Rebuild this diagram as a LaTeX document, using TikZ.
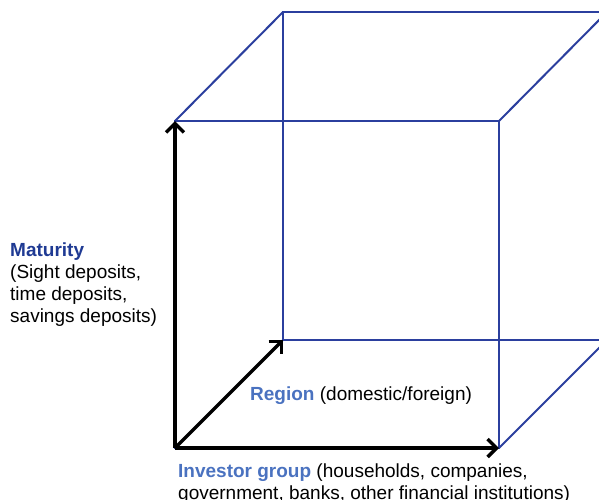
\documentclass[tikz,border=0pt]{standalone}
\usepackage{fontspec}
\setmainfont{Liberation Sans}
\usetikzlibrary{arrows.meta}
\definecolor{cubeblue}{HTML}{2B3F9E}
\definecolor{darkblue}{HTML}{1F3A93}
\definecolor{lightblue}{HTML}{4A72C0}
\begin{document}
\begin{tikzpicture}[x=1pt,y=-1pt,
  cube/.style={draw=cubeblue,line width=2pt},
  axis/.style={draw=black,line width=3.4pt,-{Straight Barb[length=9pt,width=18pt,line width=3.4pt]}},
  lbl/.style={anchor=base west,inner sep=0pt,align=left,font=\fontsize{19}{22}\selectfont}]
\useasboundingbox (0,0) rectangle (599,499);
\clip (0,0) rectangle (599,499);
\coordinate (F1) at (175,121);
\coordinate (F2) at (499,121);
\coordinate (F3) at (499,448);
\coordinate (F4) at (175,448);
\coordinate (B1) at (283,12);
\coordinate (B2) at (607,12);
\coordinate (B3) at (607,340);
\coordinate (B4) at (283,340);
\draw[cube] (F1) -- (F2) -- (F3) -- (F4) -- cycle;
\draw[cube] (B1) -- (B2) -- (B3) -- (B4) -- cycle;
\draw[cube] (F1) -- (B1);
\draw[cube] (F2) -- (B2);
\draw[cube] (F3) -- (B3);
\draw[cube] (F4) -- (B4);
\draw[axis] (F4) -- (F1);
\draw[axis] (F4) -- (F3);
\draw[axis] (F4) -- (B4);
\node[lbl] (mat) at (10,322) {\textcolor{darkblue}{\textbf{Maturity}}\\(Sight deposits,\\time deposits,\\savings deposits)};
\node[lbl] (reg) at (250,400) {\textcolor{lightblue}{\textbf{Region}} (domestic/foreign)};
\node[lbl] (inv) at (178,499) {\textcolor{lightblue}{\textbf{Investor group}} (households, companies,\\government, banks, other financial institutions)};
\end{tikzpicture}
\end{document}
